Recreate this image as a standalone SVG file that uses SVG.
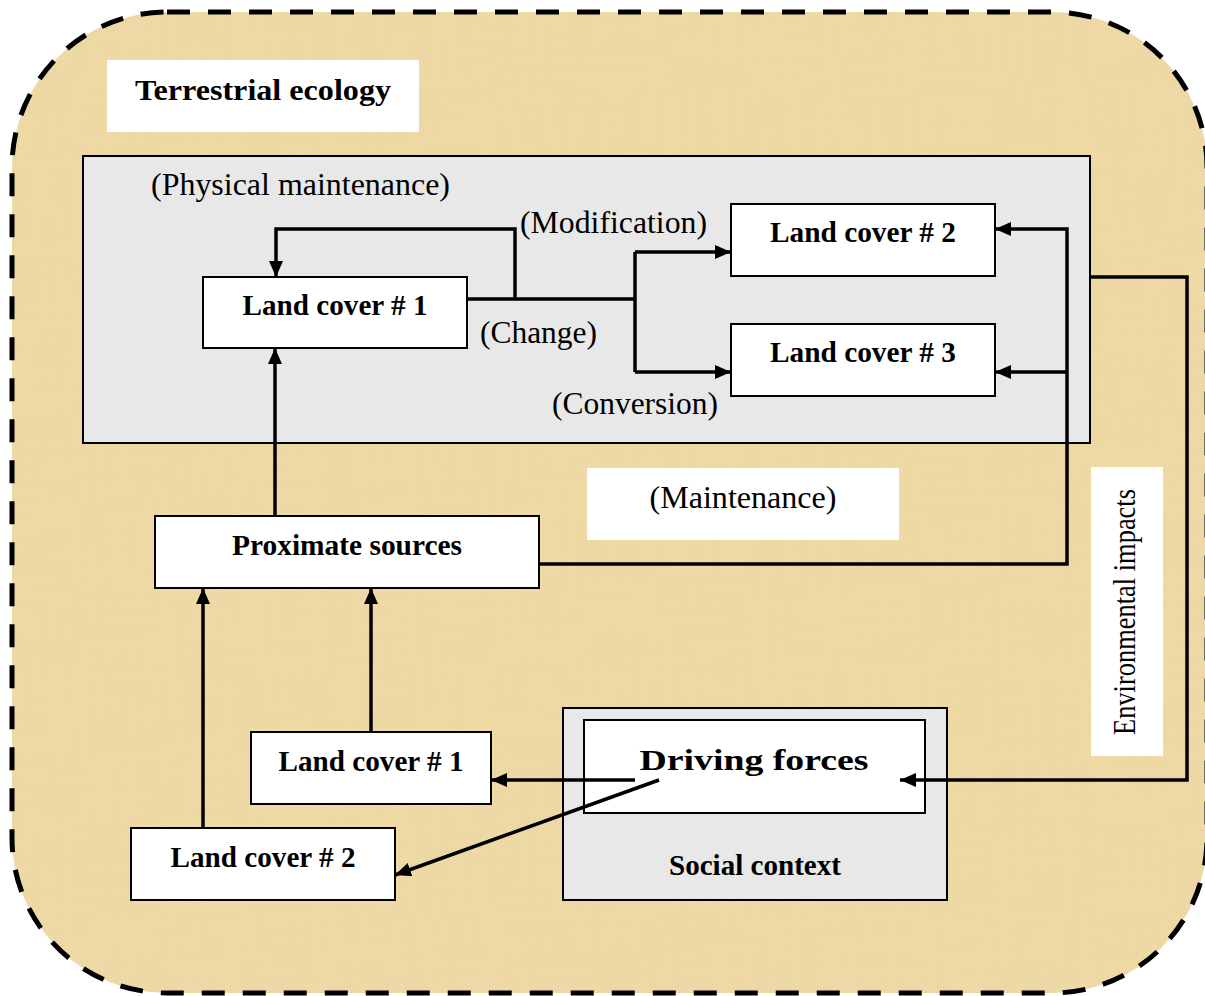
<svg xmlns="http://www.w3.org/2000/svg" width="1205" height="996" viewBox="0 0 1205 996">
  <defs>
    <style>
      .box { fill: #ffffff; stroke: #000000; stroke-width: 2; }
      .panel { fill: #e8e8e8; stroke: #000000; stroke-width: 2; }
      .plate { fill: #ffffff; stroke: none; }
      .bold { font-family: "Liberation Serif", "Times New Roman", serif; font-weight: bold; font-size: 30px; fill: #000000; }
      .reg { font-family: "Liberation Serif", "Times New Roman", serif; font-size: 31px; fill: #000000; }
      .wire { fill: none; stroke: #000000; stroke-width: 3.5; stroke-linejoin: miter; }
      .arrow { marker-end: url(#head); }
    </style>
    <marker id="head" viewBox="0 0 16 14" markerWidth="16" markerHeight="14" refX="16" refY="7" orient="auto" markerUnits="userSpaceOnUse">
      <path d="M0,0 L16,7 L0,14 z" fill="#000000"/>
    </marker>
    <filter id="grain" x="0" y="0" width="100%" height="100%">
      <feTurbulence type="fractalNoise" baseFrequency="0.3 0.012" numOctaves="2" seed="3" result="v"/>
      <feTurbulence type="fractalNoise" baseFrequency="0.012 0.3" numOctaves="2" seed="9" result="h"/>
      <feBlend in="v" in2="h" mode="multiply" result="n"/>
      <feColorMatrix in="n" type="matrix" values="0 0 0 0 0.78  0 0 0 0 0.64  0 0 0 0 0.36  0.8 0 0 0 -0.2" result="tint"/>
      <feComposite in="tint" in2="SourceGraphic" operator="in"/>
    </filter>
  </defs>

  <!-- parchment background with dashed rounded border -->
  <g id="background">
    <rect x="12" y="12" width="1195" height="981" rx="155" ry="155" fill="#efdaa6"/>
    <rect x="12" y="12" width="1195" height="981" rx="155" ry="155" fill="#000" filter="url(#grain)"/>
    <rect x="12" y="12" width="1195" height="981" rx="155" ry="155" fill="none" stroke="#000000" stroke-width="5" stroke-dasharray="23 18"/>
  </g>

  <g id="terrestrial-ecology">
    <rect class="plate" x="107" y="60" width="312" height="72"/>
    <text class="bold" x="263" y="100" font-size="32" text-anchor="middle" textLength="256" lengthAdjust="spacingAndGlyphs">Terrestrial ecology</text>
  </g>

  <g id="land-cover-panel">
    <rect class="panel" x="83" y="156" width="1007" height="287"/>
    <text class="reg" x="151" y="195" textLength="299" lengthAdjust="spacingAndGlyphs">(Physical maintenance)</text>
    <text class="reg" x="520" y="233" textLength="187" lengthAdjust="spacingAndGlyphs">(Modification)</text>
    <text class="reg" x="480" y="343" textLength="117" lengthAdjust="spacingAndGlyphs">(Change)</text>
    <text class="reg" x="552" y="414" textLength="166" lengthAdjust="spacingAndGlyphs">(Conversion)</text>
  </g>

  <g id="land-cover-1">
    <rect class="box" x="203" y="277" width="264" height="71"/>
    <text class="bold" x="335" y="315" text-anchor="middle" textLength="185" lengthAdjust="spacingAndGlyphs">Land cover # 1</text>
  </g>

  <g id="land-cover-2">
    <rect class="box" x="731" y="204" width="264" height="72"/>
    <text class="bold" x="863" y="242" text-anchor="middle" textLength="186" lengthAdjust="spacingAndGlyphs">Land cover # 2</text>
  </g>

  <g id="land-cover-3">
    <rect class="box" x="731" y="324" width="264" height="72"/>
    <text class="bold" x="863" y="362" text-anchor="middle" textLength="186" lengthAdjust="spacingAndGlyphs">Land cover # 3</text>
  </g>

  <g id="maintenance-label">
    <rect class="plate" x="587" y="468" width="312" height="72"/>
    <text class="reg" x="743" y="508" text-anchor="middle" textLength="187" lengthAdjust="spacingAndGlyphs">(Maintenance)</text>
  </g>

  <g id="environmental-impacts-label">
    <rect class="plate" x="1091" y="467" width="72" height="289"/>
    <text class="reg" transform="translate(1135,612) rotate(-90)" text-anchor="middle" font-size="27" textLength="246" lengthAdjust="spacingAndGlyphs">Environmental impacts</text>
  </g>

  <g id="proximate-sources">
    <rect class="box" x="155" y="516" width="384" height="72"/>
    <text class="bold" x="347" y="555" text-anchor="middle" textLength="230" lengthAdjust="spacingAndGlyphs">Proximate sources</text>
  </g>

  <g id="social-context">
    <rect class="panel" x="563" y="708" width="384" height="192"/>
    <text class="bold" x="755" y="875" text-anchor="middle" textLength="172" lengthAdjust="spacingAndGlyphs">Social context</text>
  </g>

  <g id="driving-forces">
    <rect class="box" x="584" y="720" width="341" height="93"/>
    <text class="bold" x="754" y="770" text-anchor="middle" font-size="40" textLength="229" lengthAdjust="spacingAndGlyphs">Driving forces</text>
  </g>

  <g id="land-cover-1-lower">
    <rect class="box" x="251" y="732" width="240" height="72"/>
    <text class="bold" x="371" y="771" text-anchor="middle" textLength="185" lengthAdjust="spacingAndGlyphs">Land cover # 1</text>
  </g>

  <g id="land-cover-2-lower">
    <rect class="box" x="131" y="828" width="264" height="72"/>
    <text class="bold" x="263" y="867" text-anchor="middle" textLength="185" lengthAdjust="spacingAndGlyphs">Land cover # 2</text>
  </g>

  <g id="connectors">
    <!-- change split and modification loop -->
    <path class="wire" d="M467,299 H635"/>
    <path class="wire arrow" d="M515,299 V229 H276 V277"/>
    <path class="wire" d="M635,252 V372"/>
    <path class="wire arrow" d="M635,252 H731"/>
    <path class="wire arrow" d="M635,372 H731"/>
    <!-- maintenance return -->
    <path class="wire arrow" d="M539,564 H1067 V229 H995"/>
    <path class="wire arrow" d="M1067,372 H995"/>
    <!-- proximate sources to land cover -->
    <path class="wire arrow" d="M275,516 V348"/>
    <path class="wire arrow" d="M203,828 V588"/>
    <path class="wire arrow" d="M371,732 V588"/>
    <!-- driving forces outputs -->
    <path class="wire arrow" d="M635,780 H491"/>
    <path class="wire arrow" d="M659,780 L395,875"/>
    <!-- environmental impacts feedback -->
    <path class="wire arrow" d="M1090,277 H1187 V780 H900"/>
  </g>
</svg>
